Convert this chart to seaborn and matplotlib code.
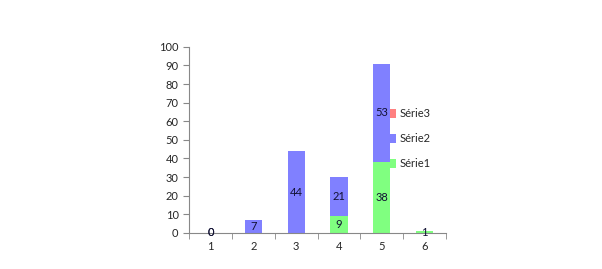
import numpy as np
import pandas as pd
import matplotlib
matplotlib.use("Agg")
import matplotlib.pyplot as plt
import seaborn as sns
from matplotlib.patches import Patch

categories = ["1", "2", "3", "4", "5", "6"]
serie1 = [0, np.nan, np.nan, 9, 38, 1]
serie2 = [0, 7, 44, 21, 53, np.nan]
serie3 = [np.nan, np.nan, np.nan, np.nan, np.nan, np.nan]
series_names = ["Série1", "Série2", "Série3"]
colors = ["#80ff80", "#8080ff", "#ff8080"]

sns.set_style("white")
plt.rcParams["font.family"] = ["Lato", "DejaVu Sans"]

fig = plt.figure(figsize=(6.02, 2.69), dpi=100)
ax = fig.add_axes([0.314, 0.134, 0.427, 0.692])

s1 = np.nan_to_num(np.array(serie1, dtype=float))
s2 = np.nan_to_num(np.array(serie2, dtype=float))
s3 = np.nan_to_num(np.array(serie3, dtype=float))
tot2 = s1 + s2
tot3 = tot2 + s3

df = pd.DataFrame({"cat": categories, "t1": s1, "t2": tot2, "t3": tot3})
for col, c in [("t3", colors[2]), ("t2", colors[1]), ("t1", colors[0])]:
    sns.barplot(data=df, x="cat", y=col, color=c, width=0.4, saturation=1,
                ax=ax, linewidth=0, edgecolor="none")

# data labels
for i in range(len(categories)):
    bottom = 0.0
    for vals in (serie1, serie2):
        v = vals[i]
        if not np.isnan(v):
            ax.text(i, bottom + v / 2, f"{int(v)}", ha="center", va="center",
                    fontsize=8, color="#111133")
            bottom += v

ax.set_xlim(-0.5, 5.5)
ax.set_ylim(0, 100)
ax.set_yticks(range(0, 101, 10))
ax.set_xlabel("")
ax.set_ylabel("")
ax.set_xticks(range(6))
ax.set_xticklabels(categories)
ax.set_xticks(np.arange(-0.5, 6.0, 1.0), minor=True)
ax.tick_params(axis="x", which="major", length=0, labelsize=8, pad=6)
ax.tick_params(axis="x", which="minor", length=4, color="#888888", direction="out", bottom=True)
ax.tick_params(axis="y", which="major", length=4, color="#888888", direction="out", labelsize=8, left=True)
for side in ["top", "right"]:
    ax.spines[side].set_visible(False)
for side in ["left", "bottom"]:
    ax.spines[side].set_color("#888888")
    ax.spines[side].set_linewidth(0.8)

handles = [Patch(facecolor=colors[k], edgecolor="none", label=series_names[k]) for k in (2, 1, 0)]
leg = ax.legend(handles=handles, loc="upper left", bbox_to_anchor=(0.782, 0.67),
                frameon=False, fontsize=8, handlelength=0.55, handleheight=0.9,
                handletextpad=0.35, labelspacing=1.25, borderaxespad=0,
                borderpad=0)

fig.savefig("out.png", dpi=100)
